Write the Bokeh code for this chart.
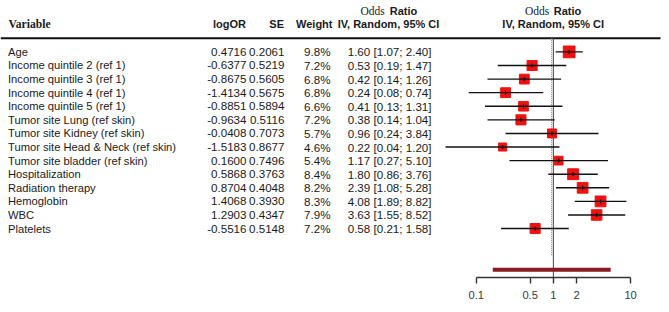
import math
from bokeh.plotting import figure
from bokeh.models import Range1d, FixedTicker, NumeralTickFormatter
from bokeh.core.properties import value
from bokeh.embed import file_html
from bokeh.resources import INLINE

# ---------------- data ----------------
variables = [
    "Age",
    "Income quintile 2 (ref 1)",
    "Income quintile 3 (ref 1)",
    "Income quintile 4 (ref 1)",
    "Income quintile 5 (ref 1)",
    "Tumor site Lung (ref skin)",
    "Tumor site Kidney (ref skin)",
    "Tumor site Head & Neck (ref skin)",
    "Tumor site bladder (ref skin)",
    "Hospitalization",
    "Radiation therapy",
    "Hemoglobin",
    "WBC",
    "Platelets",
]
log_or = [0.4716, -0.6377, -0.8675, -1.4134, -0.8851, -0.9634, -0.0408,
          -1.5183, 0.1600, 0.5868, 0.8704, 1.4068, 1.2903, -0.5516]
se = [0.2061, 0.5219, 0.5605, 0.5675, 0.5894, 0.5116, 0.7073,
      0.8677, 0.7496, 0.3763, 0.4048, 0.3930, 0.4347, 0.5148]
weight = [9.8, 7.2, 6.8, 6.8, 6.6, 7.2, 5.7, 4.6, 5.4, 8.4, 8.2, 8.3, 7.9, 7.2]
odds_ratio = [1.60, 0.53, 0.42, 0.24, 0.41, 0.38, 0.96, 0.22, 1.17, 1.80,
              2.39, 4.08, 3.63, 0.58]
ci_low = [1.07, 0.19, 0.14, 0.08, 0.13, 0.14, 0.24, 0.04, 0.27, 0.86,
          1.08, 1.89, 1.55, 0.21]
ci_high = [2.40, 1.47, 1.26, 0.74, 1.31, 1.04, 3.84, 1.20, 5.10, 3.76,
           5.28, 8.82, 8.52, 1.58]
pooled_or = 0.95
pred_low = 0.164
pred_high = 5.52
x_ticks = [0.1, 0.5, 1, 2, 10]

# ---------------- layout constants (pixels) ----------------
W, H = 669, 312
X1PX = 552.9      # pixel column of OR = 1
DEC = 77.2        # pixels per decade on the OR axis
ROW0 = 51.4       # pixel row of the first study
ROWH = 13.59      # pixel height of a row
FRAME_BOTTOM = 277

def xs(px):
    return 10 ** ((px - X1PX) / DEC)

def ys(px):
    return (px - ROW0) / ROWH

SANS = value("Liberation Sans")
SERIF = value("Liberation Serif")
TXT = "#1a1a1a"
FS_LAB = "11.2px"
FS_NUM = "11.6px"

p = figure(width=W, height=H, x_axis_type="log",
           x_range=Range1d(xs(0), xs(W)),
           y_range=Range1d(ys(FRAME_BOTTOM), ys(0)),
           output_backend="svg", toolbar_location=None,
           y_axis_location=None,
           min_border_left=0, min_border_right=0, min_border_top=0,
           min_border_bottom=H - FRAME_BOTTOM)
p.xgrid.visible = False
p.ygrid.visible = False
p.outline_line_color = None
p.background_fill_color = "white"
p.border_fill_color = "white"

ax = p.xaxis[0]
ax.bounds = (min(x_ticks), max(x_ticks))
ax.ticker = FixedTicker(ticks=x_ticks)
ax.formatter = NumeralTickFormatter(format="0.[0]")
ax.minor_tick_line_color = None
ax.major_tick_in = 0
ax.major_tick_out = 6
ax.axis_line_color = "#333333"
ax.axis_line_width = 1.4
ax.major_tick_line_color = "#333333"
ax.major_tick_line_width = 1.4
ax.major_label_standoff = 7
ax.major_label_text_font = "Liberation Sans"
ax.major_label_text_font_size = "11.2px"
ax.major_label_text_color = "#3a3a3a"

n = len(variables)
rows = list(range(n))

# header rule
p.segment(x0=[xs(0)], y0=[ys(37.7)], x1=[xs(660)], y1=[ys(37.7)],
          line_color="#111111", line_width=2)

# reference line at OR = 1 and pooled estimate (dotted)
p.segment(x0=[1], y0=[ys(37.7)], x1=[1], y1=[ys(FRAME_BOTTOM)],
          line_color="#555555", line_width=1.1)
p.segment(x0=[pooled_or], y0=[ys(37.7)], x1=[pooled_or], y1=[ys(255)],
          line_color="#777777", line_width=1, line_dash="1 1")

# study squares, CI lines, centre ticks
sizes = [3.75 * math.sqrt(w) for w in weight]
p.scatter(x=odds_ratio, y=rows, size=sizes, marker="square",
          fill_color="#f01010", line_color="#f01010")
p.segment(x0=ci_low, y0=rows, x1=ci_high, y1=rows,
          line_color="#111111", line_width=1.4)
p.scatter(x=odds_ratio, y=rows, size=4, marker="dash", angle=math.pi / 2,
          line_color="#111111", line_width=1.2)

# prediction interval bar
p.segment(x0=[pred_low], y0=[ys(269.3)], x1=[pred_high], y1=[ys(269.3)],
          line_color="#8b1a20", line_width=4)

# table columns
p.text(x=[xs(7.5)] * n, y=rows, text=variables, text_align="left",
       text_baseline="middle", text_font=SANS, text_font_size=FS_LAB,
       text_color=TXT)
p.text(x=[xs(246)] * n, y=rows, text=[f"{v:.4f}" for v in log_or],
       text_align="right", text_baseline="middle", text_font=SANS,
       text_font_size=FS_NUM, text_color=TXT)
p.text(x=[xs(284)] * n, y=rows, text=[f"{v:.4f}" for v in se],
       text_align="right", text_baseline="middle", text_font=SANS,
       text_font_size=FS_NUM, text_color=TXT)
p.text(x=[xs(330)] * n, y=rows, text=[f"{v:.1f}%" for v in weight],
       text_align="right", text_baseline="middle", text_font=SANS,
       text_font_size=FS_NUM, text_color=TXT)
p.text(x=[xs(431)] * n, y=rows,
       text=[f"{o:.2f} [{l:.2f}; {h:.2f}]" for o, l, h in zip(odds_ratio, ci_low, ci_high)],
       text_align="right", text_baseline="middle", text_font=SANS,
       text_font_size=FS_NUM, text_color=TXT)

# headers
HY = ys(23.8)
HY0 = ys(10.2)
p.text(x=[xs(8)], y=[HY], text=["Variable"], text_align="left",
       text_baseline="middle", text_font=SERIF, text_font_style="bold",
       text_font_size="11.6px", text_color=TXT)
p.text(x=[xs(245.5), xs(283.5), xs(332)], y=[HY] * 3,
       text=["logOR", "SE", "Weight"], text_align="right",
       text_baseline="middle", text_font=SANS, text_font_style="bold",
       text_font_size="11px", text_color=TXT)
p.text(x=[xs(388), xs(552.7)], y=[HY] * 2,
       text=["IV, Random, 95% CI"] * 2, text_align="center",
       text_baseline="middle", text_font=SANS, text_font_style="bold",
       text_font_size="11px", text_color=TXT)
p.text(x=[xs(384.3), xs(548.7)], y=[HY0] * 2, text=["Odds"] * 2,
       text_align="right", text_baseline="middle", text_font=SERIF,
       text_font_size="11.5px", text_color=TXT)
p.text(x=[xs(389.3), xs(553.3)], y=[HY0] * 2, text=["Ratio"] * 2,
       text_align="left", text_baseline="middle", text_font=SANS,
       text_font_style="bold", text_font_size="11px", text_color=TXT)

open("out.html", "w").write(file_html(p, INLINE))
